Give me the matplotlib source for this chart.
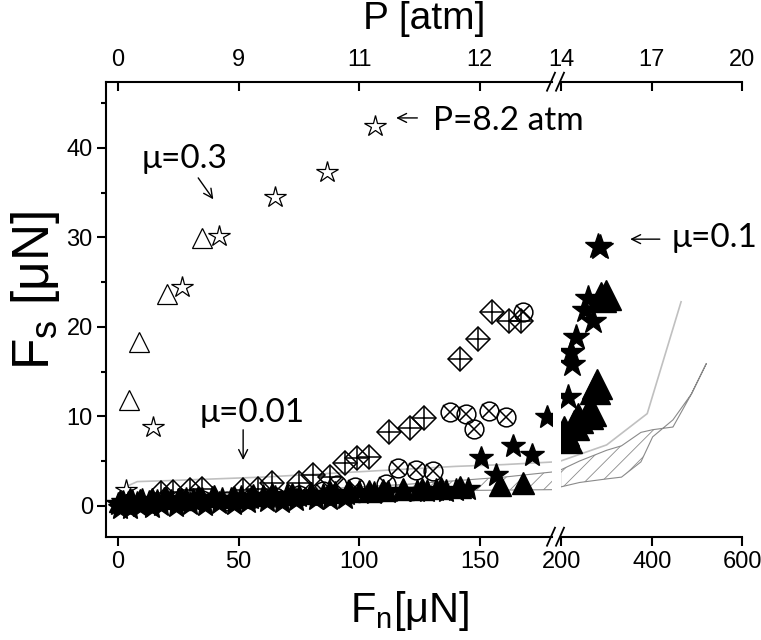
import matplotlib.pyplot as plt

plt.rcParams['font.family'] = ['Liberation Sans', 'DejaVu Sans']
plt.rcParams['mathtext.default'] = 'regular'
plt.rcParams['hatch.linewidth'] = 0.6

# ---- data ----
# open stars (mu = 0.3 series)
ostar_x = [3.2, 14.6, 26.4, 41.9, 65.1, 86.8, 106.6]
ostar_y = [1.8, 8.8, 24.5, 30.2, 34.5, 37.3, 42.5]

# open triangles
otri_x = [4.4, 8.7, 20.2, 35.0]
otri_y = [11.8, 18.3, 23.7, 29.9]

# diamonds with cross
diam_x = [18, 23, 29.9, 34.7, 52, 58.2, 63.8, 75.2, 81, 88, 94, 99.3, 104.3,
          112.2, 121.2, 127.1, 141.9, 149.5, 155.3, 162, 167.2]
diam_y = [1.4, 1.5, 1.75, 1.9, 1.75, 1.9, 2.5, 2.5, 3.4, 3.2, 4.8, 5.3, 5.4,
          8.2, 8.7, 9.8, 16.4, 18.6, 21.7, 20.6, 20.6]

# circles with x
oxc_x = [5, 15, 25, 35, 45, 55, 65, 75, 85, 90.7, 98.3, 111.2, 116.3, 123.7,
         130.5, 137.8, 144.4, 147.8, 153.7, 161, 167.9]
oxc_y = [0.2, 0.3, 0.5, 0.6, 0.5, 0.8, 1.0, 1.2, 1.6, 2.3, 2.1, 2.4, 4.2, 4.0,
         3.9, 10.5, 10.3, 8.6, 10.6, 9.9, 21.7]

# filled stars (mu = 0.1 series), low-load part
fstar_x = [0, 2, 4, 6, 8, 10, 13, 16, 19, 22, 25, 28, 31, 35, 39, 43, 47, 51,
           55, 60, 65, 70, 75, 80, 85, 90, 95, 100, 106, 112, 118, 124, 128,
           132, 136, 140, 145, 150.5, 156.7, 164, 171.7, 177.9,
           1, 5, 9, 14, 18, 24, 30, 36, 42, 48, 54, 62, 68, 74, 82, 88, 94]
fstar_y = [0.2, 0.4, 0.3, 0.5, 0.3, 0.6, 0.4, 0.5, 0.7, 0.5, 0.6, 0.8, 0.6,
           0.7, 0.9, 0.8, 0.7, 1.0, 0.9, 1.1, 1.0, 1.2, 1.1, 1.3, 1.2, 1.4,
           1.3, 1.5, 1.4, 1.5, 1.7, 1.6, 1.7, 1.8, 1.6, 1.8, 1.9, 5.3, 3.4,
           6.7, 5.7, 9.9,
           -0.3, -0.2, 0.0, -0.1, 0.1, 0.0, 0.2, 0.1, 0.3, 0.2, 0.4, 0.5, 0.4,
           0.6, 0.7, 0.8, 0.9]
# filled stars, high-load part
fstar2_x = [214, 220, 224, 233, 252, 259, 269, 282, 286]
fstar2_y = [12.2, 17.2, 15.9, 18.9, 21.9, 23.2, 20.6, 29.0, 28.9]

# filled triangles, low-load part
ftri_x = [1, 5, 9, 14, 20, 26, 33, 40, 48, 56, 64, 72, 80, 88, 96, 104, 110,
          118, 126, 134, 142, 158.5, 168]
ftri_y = [0.5, 0.7, 0.6, 0.8, 0.9, 0.8, 1.0, 1.1, 1.0, 1.2, 1.3, 1.3, 1.4,
          1.5, 1.6, 1.6, 1.8, 1.9, 1.9, 2.0, 2.1, 2.3, 2.5]
# filled triangles, high-load part
ftri2_x = [206, 212, 228, 236, 258, 266, 274, 278, 288, 298]
ftri2_y = [8.3, 7.6, 9.0, 9.8, 10.2, 10.6, 13.0, 13.6, 23.3, 23.6]

# grey guide line
line_x1 = [3, 8, 20, 40, 60, 80, 100, 120, 140, 160, 181]
line_y1 = [2.1, 2.7, 2.8, 3.0, 3.2, 3.5, 3.8, 4.1, 4.4, 4.6, 4.9]
line_x2 = [198, 300, 390, 465]
line_y2 = [5.0, 6.8, 10.3, 22.8]

# hatched band
band_x1 = [5, 20, 40, 60, 80, 100, 120, 140, 160, 181]
band_hi1 = [0.9, 1.1, 1.3, 1.5, 1.8, 2.1, 2.4, 2.8, 3.2, 3.8]
band_lo1 = [0.3, 0.5, 0.8, 1.0, 1.3, 1.5, 1.6, 1.7, 1.75, 1.8]
band_x2 = [198, 240, 300, 333, 376, 402, 447, 488, 521]
band_hi2 = [4.0, 5.0, 6.2, 6.7, 8.2, 8.5, 8.8, 12.5, 15.9]
band_lo2 = [2.1, 2.6, 3.0, 3.2, 4.9, 7.7, 9.6, 12.5, 15.9]

bottom_ticks1 = [0, 50, 100, 150]
bottom_ticks2 = [200, 400, 600]
top_labels1 = ['0', '9', '11', '12']
top_labels2 = ['14', '17', '20']

W, H = 761, 640
fig = plt.figure(figsize=(W / 100, H / 100), dpi=100)
y0, y1 = 536.7, 81.7
ax1 = fig.add_axes([106 / W, 1 - y0 / H, (552 - 106) / W, (y0 - y1) / H])
ax2 = fig.add_axes([561 / W, 1 - y0 / H, (742 - 561) / W, (y0 - y1) / H], sharey=ax1)
for ax in (ax1, ax2):
    ax.patch.set_visible(False)

tick_kw = dict(fontsize=17)


def draw(ax, seg):
    if seg == 1:
        ax.fill_between(band_x1, band_lo1, band_hi1, facecolor='none',
                        edgecolor='#8a8a8a', hatch='//', lw=0.8, zorder=1)
        ax.plot(line_x1, line_y1, color='#c0c0c0', lw=1.2, zorder=1)
        ax.plot(oxc_x, oxc_y, ls='none', marker='o', ms=13.5, mfc='none',
                mec='black', mew=1.1, zorder=2)
        ax.plot(oxc_x, oxc_y, ls='none', marker='x', ms=9.5, mec='black',
                mew=1.1, zorder=2)
        ax.plot(ostar_x, ostar_y, ls='none', marker='*', ms=16, mfc='white',
                mec='black', mew=0.9, zorder=3)
        ax.plot(otri_x, otri_y, ls='none', marker='^', ms=15, mfc='none',
                mec='black', mew=0.9, zorder=3)
        ax.plot(ftri_x, ftri_y, ls='none', marker='^', ms=16, color='black', zorder=3)
        ax.plot(fstar_x, fstar_y, ls='none', marker='*', ms=18, color='black', zorder=3)
        ax.plot(diam_x, diam_y, ls='none', marker='D', ms=12, mfc='none',
                mec='black', mew=1.1, zorder=4)
        ax.plot(diam_x, diam_y, ls='none', marker='+', ms=16.5, mec='black',
                mew=1.1, zorder=4)
    else:
        ax.fill_between(band_x2, band_lo2, band_hi2, facecolor='none',
                        edgecolor='#8a8a8a', hatch='//', lw=0.8, zorder=1)
        ax.plot(line_x2, line_y2, color='#c0c0c0', lw=1.2, zorder=1)
        ax.plot(ftri2_x, ftri2_y, ls='none', marker='^', ms=22, color='black', zorder=3)
        ax.plot(fstar2_x, fstar2_y, ls='none', marker='*', ms=19, color='black', zorder=3)


draw(ax1, 1)
draw(ax2, 2)

ax1.set_xlim(-4.98, 180)
ax2.set_xlim(198.9, 600)
ax1.set_ylim(-3.46, 47.4)

for ax in (ax1, ax2):
    ax.spines['right'].set_visible(False)
    ax.spines['top'].set_visible(False)
    ax.spines['bottom'].set_linewidth(1.5)
    ax.tick_params(axis='x', direction='out', length=6.5, width=1.5, pad=4)
ax2.spines['left'].set_visible(False)
ax2.tick_params(axis='y', which='both', left=False, labelleft=False)
ax1.spines['left'].set_linewidth(1.5)
ax1.set_yticks([0, 10, 20, 30, 40])
ax1.set_yticks([5, 15, 25, 35, 45], minor=True)
ax1.tick_params(axis='y', which='major', direction='out', length=6.5, width=1.5,
                pad=3, labelsize=17)
ax1.tick_params(axis='y', which='minor', direction='out', length=3.5, width=1.5)

ax1.set_xticks(bottom_ticks1, [str(t) for t in bottom_ticks1], **tick_kw)
ax2.set_xticks(bottom_ticks2, [str(t) for t in bottom_ticks2], **tick_kw)

for ax, ticks, labels in ((ax1, bottom_ticks1, top_labels1),
                          (ax2, bottom_ticks2, top_labels2)):
    sec = ax.secondary_xaxis('top')
    sec.set_xticks(ticks, labels, **tick_kw)
    sec.tick_params(direction='in', length=6.5, width=1.5, pad=8)
    sec.spines['top'].set_linewidth(1.5)

# break marks on both horizontal axes
for yb in (y0, y1):
    for xb in (551, 560):
        fig.add_artist(plt.Line2D([(xb - 4) / W, (xb + 4) / W],
                                  [1 - (yb + 9) / H, 1 - (yb - 9) / H],
                                  color='black', lw=1.3))

# annotations
arrow = dict(arrowstyle='->', lw=1.0, color='black', mutation_scale=16)
ann_font = dict(fontsize=24, fontfamily=['Lato', 'DejaVu Sans'])
ax1.annotate('', xy=(40.2, 34.0), xytext=(32.6, 36.9), arrowprops=arrow)
ax1.text(10.0, 37.7, 'μ=0.3', va='baseline', **ann_font)
ax1.annotate('', xy=(114.2, 43.35), xytext=(125.3, 43.35), arrowprops=arrow,
             annotation_clip=False)
ax1.text(130.7, 42.0, 'P=8.2 atm', va='baseline', clip_on=False, **ann_font)
ax1.annotate('', xy=(51.9, 4.8), xytext=(51.9, 8.8), arrowprops=arrow)
ax1.text(34.0, 9.35, 'μ=0.01', va='baseline', **ann_font)
ax2.annotate('', xy=(346, 29.8), xytext=(424, 29.8), arrowprops=arrow)
ax2.text(444, 28.9, 'μ=0.1', va='baseline', clip_on=False, **ann_font)

fig.text(424 / W, 1 - 19 / H, 'P [atm]', ha='center', va='center', fontsize=28)
fig.text(410 / W, 1 - 611 / H, 'F$_n$[μN]', ha='center', va='center', fontsize=30)
fig.text(35 / W, 1 - 290 / H, 'F$_s$ [μN]', ha='center', va='center',
         rotation=90, fontsize=37)

fig.savefig('out.png', dpi=100)
